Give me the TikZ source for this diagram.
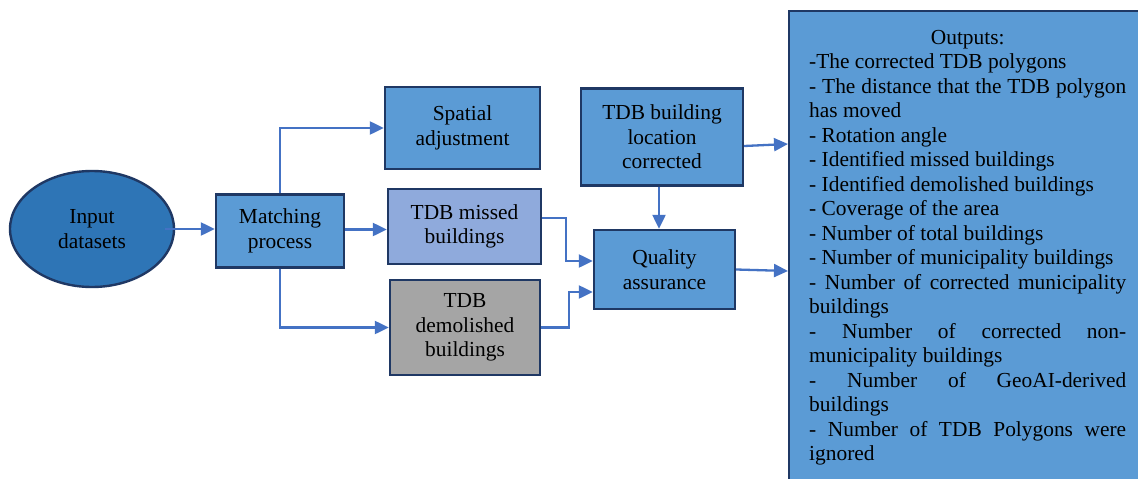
\documentclass[tikz,border=0pt]{standalone}
\usepackage{fontspec}
\setmainfont{Liberation Serif}
\usetikzlibrary{arrows.meta,calc,shapes.geometric}
\definecolor{boxblue}{HTML}{5B9BD5}
\definecolor{ellblue}{HTML}{2E75B6}
\definecolor{missblue}{HTML}{8FAADC}
\definecolor{demogray}{HTML}{A5A5A5}
\definecolor{edgecol}{HTML}{1F3864}
\definecolor{arrcol}{HTML}{4472C4}
\begin{document}
\begin{tikzpicture}[x=1pt,y=-1pt,
  box/.style={draw=edgecol,line width=2.4pt,align=center,font=\fontsize{21.4}{24.5}\selectfont,inner sep=0pt},
  conn/.style={draw=arrcol,line width=2.3pt,-{Triangle[length=14pt,width=13pt]}}]
\clip (0,0) rectangle (1138,479);
\fill[white] (0,0) rectangle (1138,479);
\node[box,fill=ellblue,ellipse,minimum width=164pt,minimum height=116pt] (ell) at (92,229) {Input\\datasets};
\node[box,fill=boxblue,minimum width=128pt,minimum height=73pt] (match) at (280,231) {Matching\\process};
\node[box,fill=boxblue,minimum width=155pt,minimum height=82pt] (spat) at (462.5,128) {Spatial\\adjustment};
\node[box,fill=missblue,minimum width=153pt,minimum height=75pt] (miss) at (464.5,226.5) {TDB missed\\buildings};
\node[box,fill=demogray,minimum width=150pt,minimum height=95pt] (demo) at (465,327.5) {TDB\\demolished\\buildings};
\node[box,fill=boxblue,minimum width=162pt,minimum height=97pt] (loc) at (662,137) {TDB building\\location\\corrected};
\node[box,fill=boxblue,minimum width=141pt,minimum height=79pt] (qa) at (664.5,269.5) {Quality\\assurance};
\node[draw=edgecol,line width=2.4pt,fill=boxblue,anchor=north west,minimum width=380pt,minimum height=500pt,inner sep=0pt] (out) at (788,10) {};
\node[anchor=north west,inner sep=0pt,text width=317pt,align=justify,font=\fontsize{21.4}{24.5}\selectfont] (outtext) at (809,30)
{\hyphenpenalty=10000\exhyphenpenalty=10000
\centerline{Outputs:}\par
-The corrected TDB polygons\par
- The distance that the TDB polygon\linebreak has moved\par
- Rotation angle\par
- Identified missed buildings\par
- Identified demolished buildings\par
- Coverage of the area\par
- Number of total buildings\par
- Number of municipality buildings\par
- Number of corrected municipality\linebreak buildings\par
- Number of corrected non-\linebreak municipality buildings\par
- Number of GeoAI-derived\linebreak buildings\par
- Number of TDB Polygons were\linebreak ignored\par};
\draw[conn] (ell.east) ++(-10,0) -- (ell.east -| match.west);
\draw[conn] (match.north) |- (spat.west);
\draw[conn] (match.east) ++(0,-1.5) -- ($(match.east -| miss.west)+(0,-1.5)$);
\draw[conn] (match.south) |- (demo.west);
\draw[conn] ($(miss.east)+(0,-8.5)$) -- (566,218) |- ($(qa.west)+(0,-8.5)$);
\draw[conn] (demo.east) -- (569,327.5) |- ($(qa.west)+(0,22.5)$);
\draw[conn] ($(loc.south)+(-3,0)$) -- ($(loc.south |- qa.north)+(-3,0)$);
\draw[conn] ($(loc.east)+(0,9)$) -- (out.west |- 0,144);
\draw[conn] (qa.east) -- (out.west |- 0,271);
\end{tikzpicture}
\end{document}
